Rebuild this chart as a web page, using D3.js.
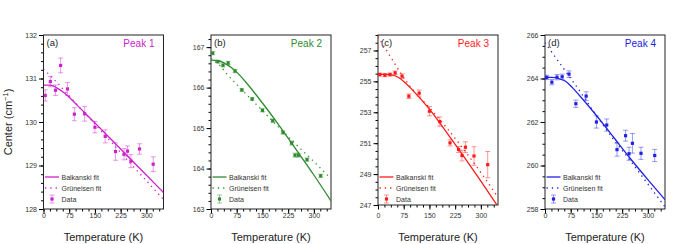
<!DOCTYPE html>
<html>
<head>
  <meta charset="utf-8">
  <script src="https://d3js.org/d3.v7.min.js"></script>
  <style>
    body { margin: 0; background: #fff; }
    text { font-family: "Liberation Sans", Arial, sans-serif; }
    .axis .domain { display: none; }
  </style>
</head>
<body>
<svg id="chart" width="673" height="244"></svg>
<script>
// measured temperatures (K), same for all four peaks
const temps = [5, 20, 35, 50, 70, 90, 120, 150, 180, 210, 235, 245, 255, 280, 320];

const peak1 = [130.61, 130.93, 130.73, 131.30, 130.76, 130.18, 130.19, 129.88, 129.67, 129.32, 129.26, 129.33, 129.10, 129.38, 129.03];
const peak1Err = [0.13, 0.12, 0.12, 0.17, 0.15, 0.15, 0.17, 0.13, 0.15, 0.2, 0.13, 0.12, 0.15, 0.12, 0.17];
const peak2 = [166.85, 166.64, 166.55, 166.61, 166.41, 165.94, 165.72, 165.44, 165.18, 164.89, 164.63, 164.33, 164.33, 164.22, 163.82];
const peak2Err = [0.04, 0.03, 0.04, 0.04, 0.04, 0.03, 0.03, 0.04, 0.04, 0.04, 0.05, 0.05, 0.05, 0.04, 0.04];
const peak3 = [255.44, 255.40, 255.44, 255.55, 255.34, 254.04, 254.24, 253.07, 252.40, 251.02, 250.59, 250.20, 250.74, 250.17, 249.61];
const peak3Err = [0.1, 0.1, 0.1, 0.12, 0.15, 0.15, 0.2, 0.3, 0.3, 0.2, 0.2, 0.35, 0.35, 0.6, 0.85];
const peak4 = [264.05, 263.83, 264.06, 264.08, 264.20, 262.84, 263.19, 262.0, 261.86, 260.73, 261.37, 260.54, 261.02, 260.56, 260.46];
const peak4Err = [0.1, 0.12, 0.12, 0.12, 0.15, 0.17, 0.2, 0.28, 0.28, 0.3, 0.25, 0.3, 0.45, 0.28, 0.28];

// fit curves
const balkT = [0, 20, 40, 60, 80, 100, 150, 200, 250, 300, 350];
const balk1 = [130.85, 130.85, 130.78, 130.67, 130.53, 130.37, 129.98, 129.58, 129.18, 128.78, 128.38];
const balk2 = [166.68, 166.67, 166.6, 166.49, 166.34, 166.15, 165.62, 165.05, 164.45, 163.84, 163.2];
const balk3 = [255.45, 255.45, 255.42, 255.25, 254.9, 254.45, 253.2, 251.7, 250.15, 248.55, 246.9];
const balk4 = [264.05, 264.05, 264.0, 263.87, 263.58, 263.23, 262.3, 261.3, 260.3, 259.35, 258.43];

const grunT = [0, 25, 50, 75, 100, 150, 200, 250, 300, 350];
const grun1 = [131.22, 131.02, 130.82, 130.60, 130.38, 129.95, 129.52, 129.08, 128.65, 128.22];
const grun2 = [166.72, 166.55, 166.3, 166.08, 165.86, 165.43, 165.0, 164.58, 164.17, 163.75];
const grun3 = [257.9, 257.0, 256.1, 255.25, 254.5, 253.3, 252.0, 250.6, 249.1, 247.5];
const grun4 = [265.65, 265.1, 264.55, 264.0, 263.45, 262.3, 261.2, 260.2, 259.15, 258.1];

const xMajor = [0, 75, 150, 225, 300];

const panels = [
  {tag: "(a)", name: "Peak 1", color: "#cc22cc", data: peak1, err: peak1Err, balk: balk1, grun: grun1,
   left: 43.5, bottom: 209, yDom: [128, 132], yStep: 1, yMinor: 0.2},
  {tag: "(b)", name: "Peak 2", color: "#2e8b2e", data: peak2, err: peak2Err, balk: balk2, grun: grun2,
   left: 211, bottom: 209, yDom: [163, 167.3], yStep: 1, yMinor: 0.2},
  {tag: "(c)", name: "Peak 3", color: "#ff1a1a", data: peak3, err: peak3Err, balk: balk3, grun: grun3,
   left: 378, bottom: 205, yDom: [247, 258], yStep: 2, yMinor: 0.5},
  {tag: "(d)", name: "Peak 4", color: "#2222e6", data: peak4, err: peak4Err, balk: balk4, grun: grun4,
   left: 545, bottom: 209, yDom: [258, 266], yStep: 2, yMinor: 0.5}
];

const svg = d3.select("#chart");
const plotTop = 35, w = 120;

svg.append("text")
  .attr("transform", "translate(12,122) rotate(-90)")
  .attr("text-anchor", "middle")
  .style("font-size", "11px")
  .attr("fill", "#222")
  .html('Center (cm<tspan dy="-4" font-size="7.5px">\u22121</tspan><tspan dy="4">)</tspan>');

panels.forEach((p, k) => {
  const h = p.bottom - plotTop;
  const x = d3.scaleLinear().domain([0, 350]).range([0, w]);
  const y = d3.scaleLinear().domain(p.yDom).range([h, 0]);
  const g = svg.append("g").attr("transform", "translate(" + p.left + "," + plotTop + ")");

  g.append("clipPath").attr("id", "clip" + k)
    .append("rect").attr("width", w).attr("height", h);

  // minor + major ticks, left
  const yMinorTicks = d3.range(p.yDom[0], p.yDom[1] + 1e-6, p.yMinor);
  g.append("g").attr("class", "axis")
    .call(d3.axisLeft(y).tickValues(yMinorTicks).tickSize(2.5).tickFormat(""));
  const yMajorTicks = d3.range(p.yDom[0], Math.floor(p.yDom[1]) + 1e-6, p.yStep);
  g.append("g").attr("class", "axis")
    .call(d3.axisLeft(y).tickValues(yMajorTicks).tickSize(4.5).tickPadding(2).tickFormat(d3.format("d")))
    .call(a => a.selectAll("text").style("font-size", "7px").attr("fill", "#333"));

  // bottom ticks
  const xMinorTicks = d3.range(0, 351, 18.75);
  g.append("g").attr("class", "axis").attr("transform", "translate(0," + h + ")")
    .call(d3.axisBottom(x).tickValues(xMinorTicks).tickSize(2.5).tickFormat(""));
  g.append("g").attr("class", "axis").attr("transform", "translate(0," + h + ")")
    .call(d3.axisBottom(x).tickValues(xMajor).tickSize(4.5).tickPadding(2))
    .call(a => a.selectAll("text").style("font-size", "7px").attr("fill", "#333")
      .attr("y", 223 - p.bottom - 5).attr("dy", 0));

  g.append("rect").attr("width", w).attr("height", h)
    .attr("fill", "none").attr("stroke", "#222").attr("stroke-width", 1);

  const plot = g.append("g").attr("clip-path", "url(#clip" + k + ")");

  const balkLine = d3.line().x((d, i) => x(balkT[i])).y(d => y(d)).curve(d3.curveMonotoneX);
  const grunLine = d3.line().x((d, i) => x(grunT[i])).y(d => y(d)).curve(d3.curveMonotoneX);

  plot.append("path").attr("d", balkLine(p.balk))
    .attr("fill", "none").attr("stroke", p.color).attr("stroke-width", 1.3);
  plot.append("path").attr("d", grunLine(p.grun))
    .attr("fill", "none").attr("stroke", p.color).attr("stroke-width", 1.3)
    .attr("stroke-dasharray", "1.3,4");

  // error bars
  const eb = plot.selectAll("g.eb").data(temps).join("g").attr("class", "eb")
    .attr("stroke", p.color).attr("stroke-opacity", 0.5).attr("stroke-width", 0.9);
  eb.append("line")
    .attr("x1", d => x(d)).attr("x2", d => x(d))
    .attr("y1", (d, i) => y(p.data[i] - p.err[i])).attr("y2", (d, i) => y(p.data[i] + p.err[i]));
  eb.append("line")
    .attr("x1", d => x(d) - 2.5).attr("x2", d => x(d) + 2.5)
    .attr("y1", (d, i) => y(p.data[i] - p.err[i])).attr("y2", (d, i) => y(p.data[i] - p.err[i]));
  eb.append("line")
    .attr("x1", d => x(d) - 2.5).attr("x2", d => x(d) + 2.5)
    .attr("y1", (d, i) => y(p.data[i] + p.err[i])).attr("y2", (d, i) => y(p.data[i] + p.err[i]));

  plot.selectAll("rect.pt").data(temps).join("rect").attr("class", "pt")
    .attr("x", d => x(d) - 1.6).attr("y", (d, i) => y(p.data[i]) - 1.6)
    .attr("width", 3.2).attr("height", 3.2).attr("fill", p.color);

  // labels
  g.append("text").attr("x", 3).attr("y", 11).style("font-size", "9.5px").attr("fill", "#222").text(p.tag);
  g.append("text").attr("x", w - 9).attr("y", 12).attr("text-anchor", "end")
    .style("font-size", "10px").attr("fill", p.color).text(p.name);

  svg.append("text").attr("x", p.left + w / 2).attr("y", 241).attr("text-anchor", "middle")
    .style("font-size", "11px").attr("fill", "#222").text("Temperature (K)");

  // legend
  const lg = svg.append("g").attr("transform", "translate(" + p.left + ",0)");
  lg.append("line").attr("x1", 1.5).attr("x2", 15.5).attr("y1", 177).attr("y2", 177)
    .attr("stroke", p.color).attr("stroke-width", 1.3);
  lg.append("line").attr("x1", 1.5).attr("x2", 15.5).attr("y1", 188).attr("y2", 188)
    .attr("stroke", p.color).attr("stroke-width", 1.3).attr("stroke-dasharray", "1.3,4");
  lg.append("line").attr("x1", 8.5).attr("x2", 8.5).attr("y1", 195).attr("y2", 203)
    .attr("stroke", p.color).attr("stroke-opacity", 0.5).attr("stroke-width", 0.9);
  [195, 203].forEach(yy => lg.append("line").attr("x1", 6).attr("x2", 11).attr("y1", yy).attr("y2", yy)
    .attr("stroke", p.color).attr("stroke-opacity", 0.5).attr("stroke-width", 0.9));
  lg.append("rect").attr("x", 6.9).attr("y", 197.4).attr("width", 3.2).attr("height", 3.2).attr("fill", p.color);
  const legendNames = ["Balkanski fit", "Gr\u00fcneisen fit", "Data"];
  legendNames.forEach((t, i) => lg.append("text").attr("x", 18).attr("y", 179.5 + i * 11)
    .style("font-size", "7px").attr("fill", "#333").text(t));
});
</script>
</body>
</html>
